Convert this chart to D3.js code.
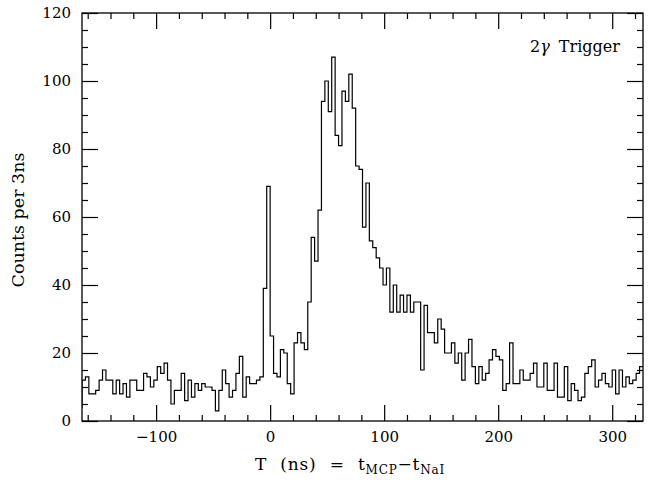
<!DOCTYPE html>
<html><head><meta charset="utf-8">
<script src="https://cdn.jsdelivr.net/npm/d3@7"></script>
<style>
body{margin:0;background:#fff}
svg{display:block}
text{font-family:"DejaVu Serif",serif;fill:#000}
</style>
</head><body>
<svg id="chart" width="650" height="482"></svg>
<script>
// ---- data ----
const binStart = -168;   // left edge of first bin (ns); first bin lies just outside the frame
const binWidth = 3;      // ns per bin
const counts = [
  4,
  12,13,8,8,9,12,15,12,12,8,12,8,11,7,12,12,9,9,14,13,
  10,12,16,14,17,12,5,9,9,14,6,12,7,11,9,11,10,10,9,3,
  9,15,11,7,9,14,19,7,13,11,11,12,13,39,69,25,14,13,21,20,
  11,8,23,26,23,21,35,54,47,62,94,100,91,107,84,81,97,94,102,92,
  75,74,57,70,53,51,48,45,40,45,32,40,32,37,32,37,32,35,35,15,
  34,26,26,23,30,27,20,20,23,17,20,12,20,24,16,11,16,12,14,18,
  21,19,18,9,11,23,11,11,15,12,12,14,17,10,10,17,9,9,17,7,
  7,16,6,11,9,6,7,14,16,18,10,12,14,11,10,15,8,15,10,13,
  11,12,14,16
];
const xDomain = [-165, 327];
const yDomain = [0, 120];
const xMajorTicks = [-100, 0, 100, 200, 300];
const xMinorTicks = [-160, -140, -120, -80, -60, -40, -20, 20, 40, 60, 80, 120, 140, 160, 180, 220, 240, 260, 280, 320];
const yMajorTicks = [0, 20, 40, 60, 80, 100, 120];
const yMinorTicks = [5, 10, 15, 25, 30, 35, 45, 50, 55, 65, 70, 75, 85, 90, 95, 105, 110, 115];
const yTitle = "Counts per 3ns";
const label = {num: "2", greek: "γ", word: " Trigger"};

// ---- layout ----
const svg = d3.select("#chart");
const L = 82, R = 643, T = 13, B = 421;
const x = d3.scaleLinear().domain(xDomain).range([L, R]);
const y = d3.scaleLinear().domain(yDomain).range([B, T]);
const majorLen = 16, minorLen = 6;

function styleAxis(g) {
  g.select(".domain").remove();
  g.selectAll("line").attr("stroke", "#000").attr("stroke-width", 1.2);
  g.selectAll("text").attr("font-size", 15).attr("font-family", '"DejaVu Serif",serif');
}

// bottom
svg.append("g").attr("transform", `translate(0,${B})`)
  .call(d3.axisBottom(x).tickValues(xMajorTicks).tickSize(-majorLen).tickFormat(d3.format("d")))
  .call(styleAxis)
  .call(g => g.selectAll("text").attr("y", 10));
svg.append("g").attr("transform", `translate(0,${B})`)
  .call(d3.axisBottom(x).tickValues(xMinorTicks).tickSize(-minorLen).tickFormat(""))
  .call(styleAxis);
// top
svg.append("g").attr("transform", `translate(0,${T})`)
  .call(d3.axisTop(x).tickValues(xMajorTicks).tickSize(-majorLen).tickFormat(""))
  .call(styleAxis);
svg.append("g").attr("transform", `translate(0,${T})`)
  .call(d3.axisTop(x).tickValues(xMinorTicks).tickSize(-minorLen).tickFormat(""))
  .call(styleAxis);
// left
svg.append("g").attr("transform", `translate(${L},0)`)
  .call(d3.axisLeft(y).tickValues(yMajorTicks).tickSize(-majorLen).tickFormat(d3.format("d")))
  .call(styleAxis)
  .call(g => g.selectAll("text").attr("x", -11));
svg.append("g").attr("transform", `translate(${L},0)`)
  .call(d3.axisLeft(y).tickValues(yMinorTicks).tickSize(-minorLen).tickFormat(""))
  .call(styleAxis);
// right
svg.append("g").attr("transform", `translate(${R},0)`)
  .call(d3.axisRight(y).tickValues(yMajorTicks).tickSize(-majorLen).tickFormat(""))
  .call(styleAxis);
svg.append("g").attr("transform", `translate(${R},0)`)
  .call(d3.axisRight(y).tickValues(yMinorTicks).tickSize(-minorLen).tickFormat(""))
  .call(styleAxis);

// frame
svg.append("rect").attr("x", L).attr("y", T).attr("width", R - L).attr("height", B - T)
  .attr("fill", "none").attr("stroke", "#000").attr("stroke-width", 1.3);

// histogram
svg.append("clipPath").attr("id", "clip").append("rect")
  .attr("x", L).attr("y", T).attr("width", R - L).attr("height", B - T);
const pts = counts.map((c, i) => [binStart + i * binWidth, c]);
pts.push([binStart + counts.length * binWidth, counts[counts.length - 1]]);
const line = d3.line().x(d => x(d[0])).y(d => y(d[1])).curve(d3.curveStepAfter);
svg.append("path").attr("d", line(pts)).attr("clip-path", "url(#clip)")
  .attr("fill", "none").attr("stroke", "#000").attr("stroke-width", 1.2);

// titles
svg.append("text").attr("transform", `translate(24,${(T + B) / 2 + 3}) rotate(-90)`)
  .attr("text-anchor", "middle").attr("font-size", 17.5).text(yTitle);

const xt = svg.append("text").attr("x", 350).attr("y", 470)
  .attr("text-anchor", "middle").attr("font-size", 17).attr("word-spacing", 7).attr("letter-spacing", 0.8);
xt.append("tspan").text("T (ns) = t");
xt.append("tspan").attr("font-size", 12).attr("dy", 4).text("MCP");
xt.append("tspan").attr("dy", -4).text("\u2212t");
xt.append("tspan").attr("font-size", 12).attr("dy", 4).text("NaI");

const lt = svg.append("text").attr("x", 530).attr("y", 52).attr("font-size", 16);
lt.append("tspan").text(label.num);
lt.append("tspan").attr("font-style", "italic").text(label.greek);
lt.append("tspan").attr("dx", 4).text(label.word);
</script>
</body></html>
